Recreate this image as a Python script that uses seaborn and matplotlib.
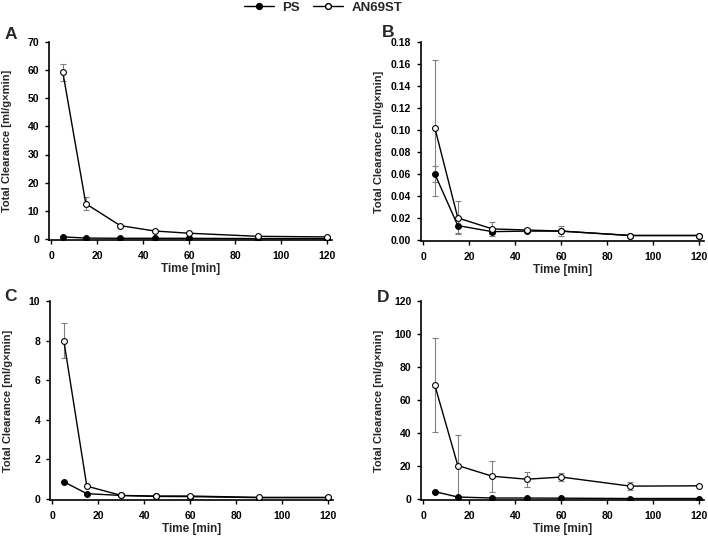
import matplotlib
matplotlib.use("Agg")
import matplotlib.pyplot as plt
import seaborn as sns
import pandas as pd
from matplotlib.lines import Line2D

# sampling times [min]
time = [5, 15, 30, 45, 60, 90, 120]

# panel A
A_ps = [0.7, 0.3, 0.2, 0.2, 0.2, 0.1, 0.1]
A_ps_err = [0.1, 0.05, 0.05, 0.05, 0.05, 0.0, 0.0]
A_an = [59.3, 12.5, 4.7, 2.8, 2.0, 0.9, 0.7]
A_an_err = [3.0, 2.3, 0.3, 0.2, 0.2, 0.1, 0.1]

# panel B
B_ps = [0.060, 0.013, 0.0075, 0.0080, 0.0080, 0.0040, 0.0040]
B_ps_err = [0.007, 0.007, 0.0025, 0.001, 0.001, 0.0, 0.0]
B_an = [0.102, 0.020, 0.010, 0.009, 0.008, 0.004, 0.004]
B_an_err = [0.062, 0.015, 0.006, 0.002, 0.0045, 0.0005, 0.0005]

# panel C
C_ps = [0.87, 0.27, 0.18, 0.13, 0.12, 0.07, 0.07]
C_ps_err = [0.03, 0.02, 0.01, 0.01, 0.01, 0.0, 0.0]
C_an = [8.0, 0.65, 0.18, 0.15, 0.15, 0.08, 0.08]
C_an_err = [0.88, 0.03, 0.02, 0.02, 0.02, 0.01, 0.01]

# panel D
D_ps = [4.5, 1.2, 0.6, 0.6, 0.5, 0.3, 0.3]
D_ps_err = [0.4, 0.2, 0.1, 0.1, 0.1, 0.05, 0.05]
D_an = [69.0, 20.3, 13.8, 12.0, 13.3, 7.8, 8.0]
D_an_err = [28.5, 18.5, 9.3, 4.5, 2.5, 2.5, 0.3]

panels = [
    ("A", A_ps, A_ps_err, A_an, A_an_err, (-0.4, 70), 10, "{:.0f}"),
    ("B", B_ps, B_ps_err, B_an, B_an_err, (-0.001, 0.18), 0.02, "{:.2f}"),
    ("C", C_ps, C_ps_err, C_an, C_an_err, (-0.05, 10), 2, "{:.0f}"),
    ("D", D_ps, D_ps_err, D_an, D_an_err, (-0.6, 120), 20, "{:.0f}"),
]

sns.set_style("ticks")
plt.rcParams['font.family'] = ['Liberation Sans', 'DejaVu Sans']
plt.rcParams['font.weight'] = 'bold'

W, H = 708, 536
fig = plt.figure(figsize=(W / 100, H / 100), dpi=100)

# axes boxes in pixels: left, top, width, height
boxes = {
    "A": (49, 42, 283, 198),
    "B": (421, 42, 283, 199),
    "C": (50, 301, 283, 199),
    "D": (421, 301, 283, 199),
}
letter_pos = {"A": (5, 39), "B": (382, 37), "C": (4, 301), "D": (377, 302)}

for name, ps, ps_err, an, an_err, ylim, step, fmt in panels:
    l, t, w, h = boxes[name]
    ax = fig.add_axes([l / W, 1 - (t + h) / H, w / W, h / H])
    df = pd.DataFrame({"time": time + time,
                       "val": ps + an,
                       "grp": ["PS"] * 7 + ["AN69ST"] * 7})

    ax.errorbar(time, ps, yerr=ps_err, fmt="none", ecolor="#808080",
                elinewidth=0.8, capsize=2, capthick=0.8, zorder=1)
    ax.errorbar(time, an, yerr=an_err, fmt="none", ecolor="#808080",
                elinewidth=0.8, capsize=2, capthick=0.8, zorder=1)
    sns.lineplot(data=df[df.grp == "PS"], x="time", y="val", ax=ax,
                 color="black", lw=1.0, marker="o", markersize=4.2,
                 markerfacecolor="black", markeredgecolor="black",
                 legend=False, zorder=3)
    sns.lineplot(data=df[df.grp == "AN69ST"], x="time", y="val", ax=ax,
                 color="black", lw=1.0, marker="o", markersize=4.2,
                 markerfacecolor="white", markeredgecolor="black",
                 markeredgewidth=0.8, legend=False, zorder=4)

    ax.set_xlim(-1, 122)
    ax.set_ylim(*ylim)
    ax.set_xticks(range(0, 121, 20))
    yt = [i * step for i in range(int(round(ylim[1] / step)) + 1)]
    ax.set_yticks(yt)
    ax.set_yticklabels([fmt.format(v) for v in yt])
    for s in ["top", "right"]:
        ax.spines[s].set_visible(False)
    for s in ["left", "bottom"]:
        ax.spines[s].set_linewidth(1.2)
        ax.spines[s].set_color("black")
    ax.tick_params(axis="y", labelsize=7.5, width=1, length=3, pad=4,
                   colors="black")
    ax.tick_params(axis="x", labelsize=7.5, width=1, length=3, pad=5,
                   colors="black")
    for lab in ax.get_xticklabels() + ax.get_yticklabels():
        lab.set_fontweight("bold")
    ax.set_xlabel("Time [min]", fontsize=8.5, fontweight="bold")
    ax.set_ylabel("Total Clearance [ml/g×min]", fontsize=8, fontweight="bold")
    ax.xaxis.set_label_coords(0.5, -23 / h)
    ax.yaxis.set_label_coords(-37 / w, 0.5)
    lx, ly = letter_pos[name]
    fig.text(lx / W, 1 - ly / H, name, fontsize=12.5, fontweight="bold",
             ha="left", va="baseline")

handles = [
    Line2D([], [], color="black", lw=1.0, marker="o", markersize=4.2,
           markerfacecolor="black", markeredgecolor="black"),
    Line2D([], [], color="black", lw=1.0, marker="o", markersize=4.2,
           markerfacecolor="white", markeredgecolor="black"),
]
fig.legend(handles, ["PS", "AN69ST"], loc="center",
           bbox_to_anchor=(323 / W, 1 - 7.5 / H), ncol=2, frameon=False,
           prop={"weight": "bold", "size": 9.5}, handlelength=2.3,
           columnspacing=1.0, handletextpad=0.6, borderpad=0)

fig.savefig("out.png", dpi=100)
